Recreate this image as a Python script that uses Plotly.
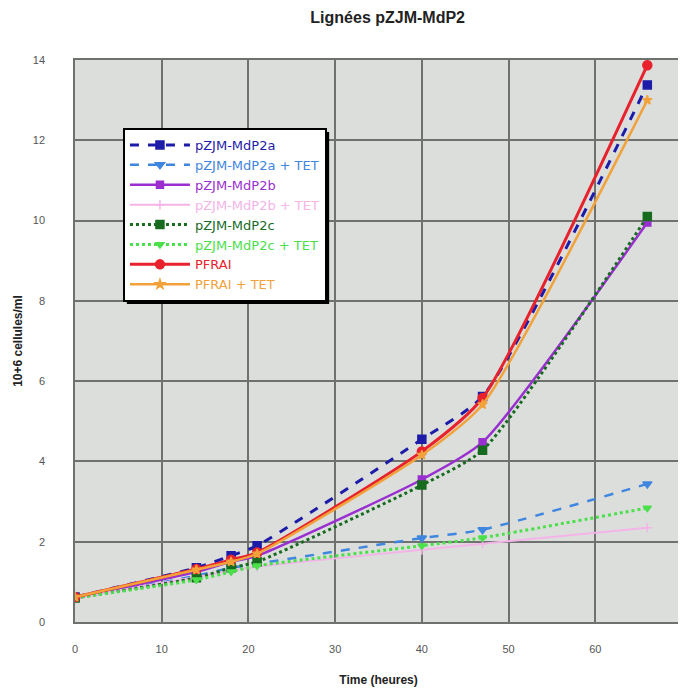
import plotly.graph_objects as go

time_h = [0, 14, 18, 21, 40, 47, 66]

mdp2a = [0.62, 1.35, 1.65, 1.9, 4.55, 5.62, 13.38]
mdp2a_tet = [0.6, 1.15, 1.35, 1.45, 2.09, 2.3, 3.44]
mdp2b = [0.6, 1.25, 1.5, 1.65, 3.55, 4.48, 9.95]
mdp2b_tet = [0.6, 1.12, 1.28, 1.38, 1.8, 1.95, 2.35]
mdp2c = [0.6, 1.1, 1.35, 1.5, 3.41, 4.28, 10.1]
mdp2c_tet = [0.6, 1.05, 1.25, 1.4, 1.9, 2.1, 2.84]
pfrai = [0.62, 1.32, 1.55, 1.73, 4.25, 5.58, 13.87]
pfrai_tet = [0.62, 1.3, 1.5, 1.7, 4.16, 5.42, 13.0]

series_names = ["pZJM-MdP2a", "pZJM-MdP2a + TET", "pZJM-MdP2b", "pZJM-MdP2b + TET",
                "pZJM-MdP2c", "pZJM-MdP2c + TET", "PFRAI", "PFRAI + TET"]
x_ticks = [0, 10, 20, 30, 40, 50, 60, 70]
y_ticks = [0, 2, 4, 6, 8, 10, 12, 14]

styles = [
    (mdp2a, "#1c1ca8", "dash", "square", 3, 8),
    (mdp2a_tet, "#3f86de", "dash", "triangle-down", 2.5, 8),
    (mdp2b, "#9a2fd0", "solid", "square", 2.5, 7),
    (mdp2b_tet, "#f4b4e8", "solid", "cross-thin-open", 2, 7),
    (mdp2c, "#176b1f", "dot", "square", 3, 8),
    (mdp2c_tet, "#4be04b", "dot", "triangle-down", 3, 7),
    (pfrai, "#e8222c", "solid", "circle", 3, 9),
    (pfrai_tet, "#f2a23a", "solid", "star", 2.5, 7),
]

fig = go.Figure()
for name, (vals, col, dash, sym, w, ms) in zip(series_names, styles):
    fig.add_trace(go.Scatter(
        x=time_h, y=vals, mode="lines+markers",
        name=f'<span style="color:{col}">{name}</span>',
        line=dict(color=col, width=w, dash=dash, shape="spline", smoothing=0.6),
        marker=dict(symbol=sym, size=ms, color=col, line=dict(width=1.5, color=col)),
    ))

# drop shadow of the legend box
fig.add_shape(type="rect", xref="paper", yref="paper",
              x0=0.0854, x1=0.4187, y0=0.5658, y1=0.8719,
              fillcolor="black", line=dict(width=0), layer="above")

grid_col = "#6e716e"
fig.update_layout(
    width=678, height=682,
    margin=dict(l=67, r=2, t=52, b=68),
    paper_bgcolor="white", plot_bgcolor="#dcdedc",
    title=dict(text="<b>Lignées pZJM-MdP2</b>", x=0.56, y=0.986, yanchor="middle",
               xanchor="center",
               font=dict(family="Liberation Sans, Arial", size=16, color="#222")),
    font=dict(family="Liberation Sans, Arial", size=11, color="#555"),
    showlegend=True,
    legend=dict(x=0.079, y=0.879, xanchor="left", yanchor="top",
                bgcolor="white", bordercolor="black", borderwidth=2,
                font=dict(family="DejaVu Sans", size=13),
                tracegroupgap=0, itemwidth=60),
)
fig.update_xaxes(range=[0, 70], tickvals=x_ticks, showgrid=True, gridcolor=grid_col,
                 gridwidth=1.5, zeroline=False, showline=True, mirror=True,
                 linecolor=grid_col, linewidth=1.5,
                 ticks="outside", ticklen=16, tickcolor="rgba(0,0,0,0)",
                 title=dict(text="<b>Time (heures)</b>", standoff=22,
                            font=dict(size=12, color="#222")))
fig.update_yaxes(range=[0, 14], tickvals=y_ticks, showgrid=True, gridcolor=grid_col,
                 gridwidth=1.5, zeroline=False, showline=True, mirror=True,
                 linecolor=grid_col, linewidth=1.5,
                 ticks="outside", ticklen=26, tickcolor="rgba(0,0,0,0)",
                 title=dict(text="<b>10+6 cellules/ml</b>", standoff=8,
                            font=dict(size=12, color="#222")))

fig.write_html("out.html")
